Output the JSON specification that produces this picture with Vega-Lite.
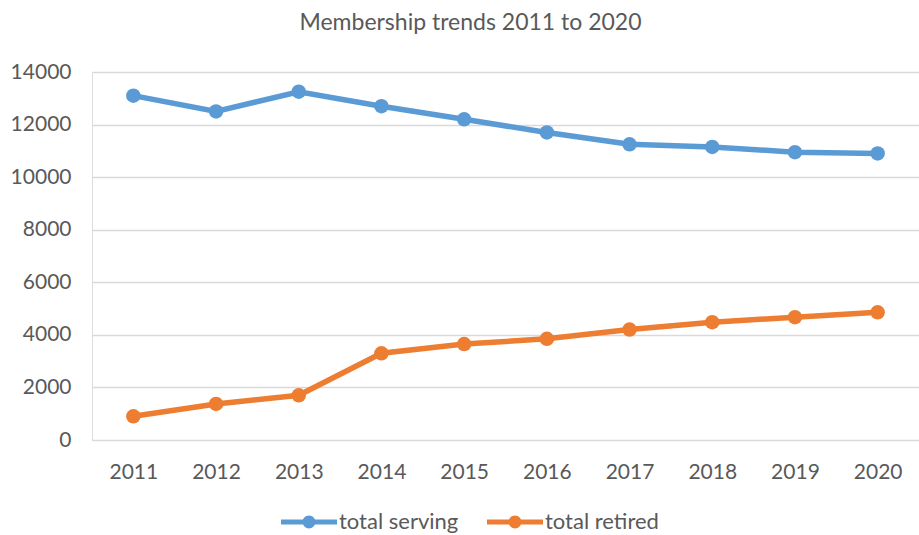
{
  "$schema": "https://vega.github.io/schema/vega-lite/v6.json",
  "autosize": "none",
  "width": 827,
  "height": 368,
  "padding": {"left": 92, "top": 72, "right": 0, "bottom": 95},
  "background": "white",
  "title": {
    "text": "Membership trends 2011 to 2020",
    "font": "Lato",
    "fontSize": 23,
    "fontWeight": "normal",
    "color": "#595959",
    "anchor": "middle",
    "offset": 26,
    "dx": -35
  },
  "data": {
    "values": [
      {"year": "2011", "series": "total serving", "value": 13100},
      {"year": "2012", "series": "total serving", "value": 12500},
      {"year": "2013", "series": "total serving", "value": 13250},
      {"year": "2014", "series": "total serving", "value": 12700},
      {"year": "2015", "series": "total serving", "value": 12200},
      {"year": "2016", "series": "total serving", "value": 11700},
      {"year": "2017", "series": "total serving", "value": 11250},
      {"year": "2018", "series": "total serving", "value": 11150},
      {"year": "2019", "series": "total serving", "value": 10950},
      {"year": "2020", "series": "total serving", "value": 10900},
      {"year": "2011", "series": "total retired", "value": 900},
      {"year": "2012", "series": "total retired", "value": 1370},
      {"year": "2013", "series": "total retired", "value": 1700},
      {"year": "2014", "series": "total retired", "value": 3300},
      {"year": "2015", "series": "total retired", "value": 3650},
      {"year": "2016", "series": "total retired", "value": 3850},
      {"year": "2017", "series": "total retired", "value": 4200},
      {"year": "2018", "series": "total retired", "value": 4480},
      {"year": "2019", "series": "total retired", "value": 4670},
      {"year": "2020", "series": "total retired", "value": 4860}
    ]
  },
  "mark": {"type": "line", "strokeWidth": 5.5, "point": {"filled": true, "size": 210, "opacity": 1}},
  "encoding": {
    "x": {
      "field": "year",
      "type": "ordinal",
      "scale": {"type": "point", "padding": 0.5},
      "axis": {
        "title": null,
        "labelAngle": 0,
        "labelFont": "Lato",
        "labelFontSize": 21,
        "labelColor": "#595959",
        "labelPadding": 21,
        "ticks": false,
        "domain": false,
        "grid": false
      }
    },
    "y": {
      "field": "value",
      "type": "quantitative",
      "scale": {"domain": [0, 14000], "nice": false},
      "axis": {
        "title": null,
        "values": [0, 2000, 4000, 6000, 8000, 10000, 12000, 14000],
        "format": "d",
        "labelFont": "Lato",
        "labelFontSize": 21,
        "labelColor": "#595959",
        "labelPadding": 21,
        "ticks": false,
        "domain": false,
        "grid": true,
        "gridColor": "#d9d9d9",
        "gridWidth": 1.5
      }
    },
    "color": {
      "field": "series",
      "type": "nominal",
      "scale": {"domain": ["total serving", "total retired"], "range": ["#5B9BD5", "#ED7D31"]},
      "legend": {
        "title": null,
        "orient": "none",
        "direction": "horizontal",
        "legendX": 189,
        "legendY": 422,
        "labelFont": "Lato",
        "labelFontSize": 22,
        "labelColor": "#595959",
        "labelOffset": 2,
        "columnPadding": 28,
        "symbolType": "M-1,-0.09L1,-0.09L1,0.09L-1,0.09Z M-0.23,0 A0.23,0.23 0 1,1 0.23,0 A0.23,0.23 0 1,1 -0.23,0 Z",
        "symbolSize": 3136,
        "symbolStrokeWidth": 0,
        "encode": {
          "symbols": {"update": {"fill": {"scale": "color", "field": "value"}, "stroke": {"value": "transparent"}, "opacity": {"value": 1}}}
        }
      }
    }
  }
}
